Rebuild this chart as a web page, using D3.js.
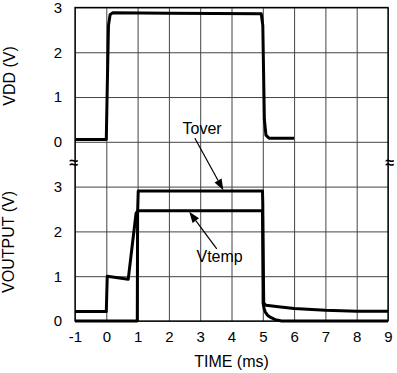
<!DOCTYPE html>
<html lang="en">
<head>
    <meta charset="UTF-8">
    <title>VDD / VOUTPUT vs time</title>
    <script src="https://d3js.org/d3.v7.min.js"></script>
    <style>
        body { margin: 0; background: #fff; }
        text { font-family: "Liberation Sans", Arial, sans-serif; fill: #000; }
        .grid line { stroke: #444; stroke-width: 1; }
        .grid .domain { display: none; }
        .trace { fill: none; stroke: #000; stroke-width: 3; stroke-linejoin: round; }
    </style>
</head>
<body>
    <script>
        // time axis ticks (ms)
        const timeTicks = [-1, 0, 1, 2, 3, 4, 5, 6, 7, 8, 9];
        const voltTicks = [0, 1, 2, 3];

        // VDD trace
        const vddTime = [-1, 0, 0.03, 0.07, 0.12, 0.2, 2, 4.95, 5.0, 5.05, 5.1, 5.2, 6.0];
        const vddVolt = [0.05, 0.05, 1.2, 2.6, 2.84, 2.88, 2.87, 2.86, 2.6, 0.5, 0.15, 0.08, 0.08];

        // Tover trace
        const toverTime = [-1, 0.99, 1.0, 1.02, 4.99, 5.0, 5.01, 5.04, 5.08, 5.15, 5.25, 5.4, 5.6, 9];
        const toverVolt = [0, 0, 2.4, 2.9, 2.9, 2.6, 0.4, 0.28, 0.2, 0.13, 0.08, 0.03, 0, 0];

        // Vtemp trace
        const vtempTime = [-1, 0, 0.03, 0.7, 0.95, 1.0, 4.99, 5.03, 5.1, 5.5, 6, 7, 8, 9];
        const vtempVolt = [0.21, 0.21, 1.0, 0.93, 2.4, 2.46, 2.46, 0.4, 0.35, 0.32, 0.28, 0.24, 0.22, 0.22];

        const width = 397, height = 373;
        const left = 75, right = 388;

        const svg = d3.select("body").append("svg")
            .attr("width", width)
            .attr("height", height);

        const x = d3.scaleLinear().domain([-1, 9]).range([left, right]);
        const yTop = d3.scaleLinear().domain([0, 3]).range([141.8, 7.5]);
        const yBot = d3.scaleLinear().domain([0, 3]).range([321, 186.6]);
        const plotTop = yTop(3), plotBot = yBot(0);

        // vertical grid + time labels (plain hyphen for -1)
        svg.append("g")
            .attr("class", "grid")
            .attr("transform", `translate(0,${plotBot})`)
            .call(d3.axisBottom(x).tickValues(timeTicks)
                .tickSize(-(plotBot - plotTop)).tickPadding(10.5)
                .tickFormat(d => String(d)))
            .call(g => g.selectAll("text").attr("font-size", 15).attr("font-family", null));

        // horizontal grid + volt labels for both panels
        [yTop, yBot].forEach(y => {
            svg.append("g")
                .attr("class", "grid")
                .attr("transform", `translate(${left},0)`)
                .call(d3.axisLeft(y).tickValues(voltTicks)
                    .tickSize(-(right - left)).tickPadding(13)
                    .tickFormat(d => String(d)))
                .call(g => g.selectAll("text").attr("font-size", 15).attr("font-family", null));
        });

        // frame
        svg.append("rect")
            .attr("x", left).attr("y", plotTop)
            .attr("width", right - left).attr("height", plotBot - plotTop)
            .attr("fill", "none").attr("stroke", "#000").attr("stroke-width", 1.3);

        // break marks between panels
        const breakY = (yTop(0) + yBot(3)) / 2 - 2;
        [left - 1, right + 2].forEach(bx => {
            svg.append("text")
                .attr("x", bx).attr("y", breakY)
                .attr("dy", "0.35em")
                .attr("text-anchor", "middle")
                .attr("font-family", "DejaVu Sans")
                .attr("font-weight", "bold")
                .attr("font-size", 16)
                .text("≈");
        });

        function drawTrace(ts, vs, y) {
            const pts = ts.map((t, i) => [t, vs[i]]);
            svg.append("path")
                .datum(pts)
                .attr("class", "trace")
                .attr("d", d3.line().x(d => x(d[0])).y(d => y(d[1])));
        }
        drawTrace(vddTime, vddVolt, yTop);
        drawTrace(vtempTime, vtempVolt, yBot);
        drawTrace(toverTime, toverVolt, yBot);

        // annotations
        function arrow(t0, v0, t1, v1) {
            const x0 = x(t0), y0 = yBot(v0), x1 = x(t1), y1 = yBot(v1);
            const ang = Math.atan2(y1 - y0, x1 - x0);
            const len = 11, half = 4;
            const bx = x1 - len * Math.cos(ang), by = y1 - len * Math.sin(ang);
            svg.append("line")
                .attr("x1", x0).attr("y1", y0).attr("x2", bx).attr("y2", by)
                .attr("stroke", "#000").attr("stroke-width", 1.2);
            svg.append("path")
                .attr("d", `M${x1},${y1}L${bx - half * Math.sin(ang)},${by + half * Math.cos(ang)}L${bx + half * Math.sin(ang)},${by - half * Math.cos(ang)}Z`)
                .attr("fill", "#000");
        }

        svg.append("text")
            .attr("x", x(3.06)).attr("y", yBot(4.31))
            .attr("dy", "0.35em").attr("text-anchor", "middle")
            .attr("font-size", 16).text("Tover");
        arrow(2.83, 4.08, 3.74, 2.92);

        svg.append("text")
            .attr("x", x(3.62)).attr("y", yBot(1.44))
            .attr("dy", "0.35em").attr("text-anchor", "middle")
            .attr("font-size", 16).text("Vtemp");
        arrow(3.53, 1.61, 2.65, 2.44);

        // axis titles
        svg.append("text")
            .attr("x", (left + right) / 2).attr("y", 367)
            .attr("text-anchor", "middle")
            .attr("font-size", 16).text("TIME (ms)");

        svg.append("text")
            .attr("transform", "translate(14.5,76) rotate(-90)")
            .attr("text-anchor", "middle")
            .attr("font-size", 16).text("VDD (V)");

        svg.append("text")
            .attr("transform", "translate(13.5,242) rotate(-90)")
            .attr("text-anchor", "middle")
            .attr("font-size", 16).text("VOUTPUT (V)");
    </script>
</body>
</html>
